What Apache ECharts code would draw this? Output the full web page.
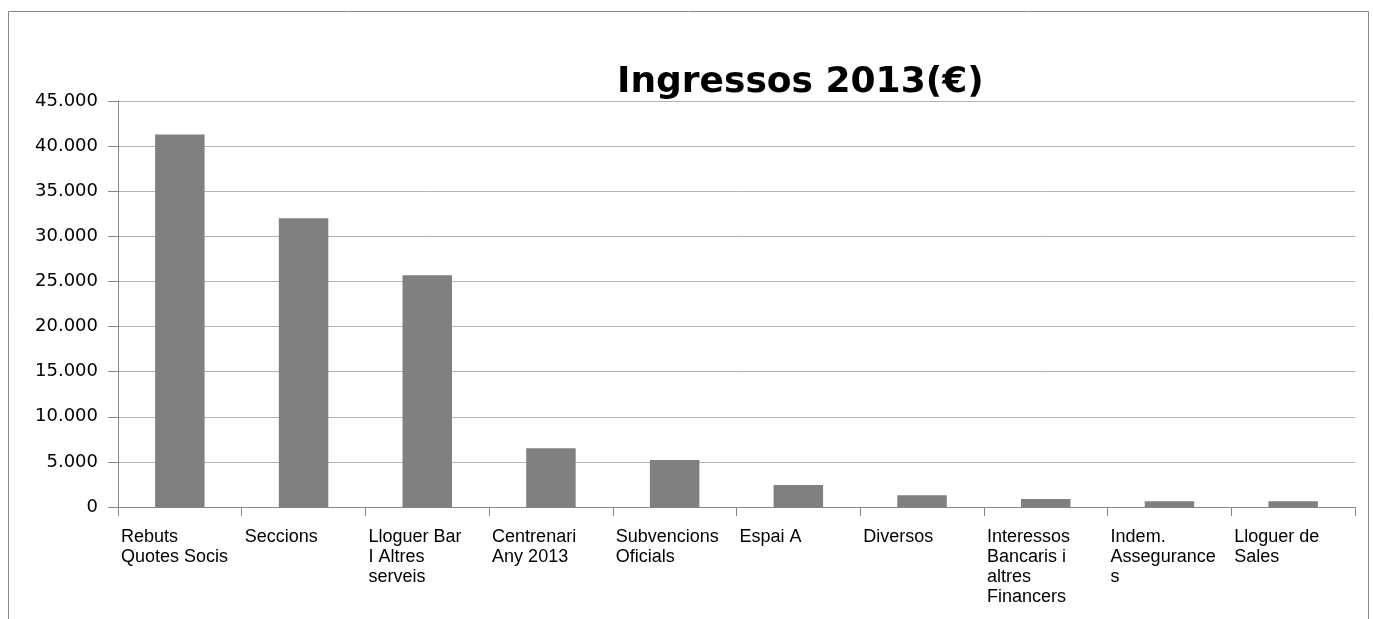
<!DOCTYPE html>
<html>
<head>
<meta charset="utf-8">
<script src="https://cdn.jsdelivr.net/npm/echarts@6/dist/echarts.min.js"></script>
<style>
  html, body { margin: 0; padding: 0; background: #fff; }
  #chart { width: 1373px; height: 619px; }
</style>
</head>
<body>
<div id="chart"></div>
<script>
const title = 'Ingressos 2013(€)';
const categories = ['Rebuts Quotes Socis', 'Seccions', 'Lloguer Bar I Altres serveis', 'Centrenari Any 2013', 'Subvencions Oficials', 'Espai A', 'Diversos', 'Interessos Bancaris i altres Financers', 'Indem. Assegurances', 'Lloguer de Sales'];
const categoryLabels = ['Rebuts\nQuotes Socis', 'Seccions', 'Lloguer Bar\nI Altres\nserveis', 'Centrenari\nAny 2013', 'Subvencions\nOficials', 'Espai A', 'Diversos', 'Interessos\nBancaris i\naltres\nFinancers', 'Indem.\nAssegurance\ns', 'Lloguer de\nSales'];
const values = [41300, 32000, 25700, 6500, 5200, 2450, 1300, 900, 650, 650];
const yTicks = { min: 0, max: 45000, interval: 5000 };

const chart = echarts.init(document.getElementById('chart'), null, { renderer: 'canvas' });
chart.setOption({
  animation: false,
  backgroundColor: '#ffffff',
  graphic: [{
    type: 'rect', shape: { x: 8.5, y: 11.5, width: 1360, height: 640 },
    style: { fill: 'none', stroke: '#888888', lineWidth: 1 }, silent: true, z: -1
  }],
  title: {
    text: title, left: 612, top: 60,
    textStyle: { fontFamily: 'DejaVu Sans', fontWeight: 'bold', fontSize: 36, color: '#000' }
  },
  grid: { left: 118, right: 18, top: 101, bottom: 112, containLabel: false },
  xAxis: [{
    type: 'category', data: categories,
    axisLine: { lineStyle: { color: '#868686' } },
    axisTick: { show: true, interval: 0, length: 9, lineStyle: { color: '#868686' } },
    axisLabel: { show: false }
  }, {
    type: 'category', data: categoryLabels.concat(['']), boundaryGap: false, position: 'bottom',
    axisLine: { show: false }, axisTick: { show: false },
    axisLabel: {
      show: true, interval: 0, align: 'left', margin: 20,
      fontFamily: 'Liberation Sans Narrow, Liberation Sans, sans-serif', fontSize: 18, lineHeight: 20, color: '#000',
      padding: [0, 0, 0, 3]
    }
  }],
  yAxis: {
    type: 'value', min: yTicks.min, max: yTicks.max, interval: yTicks.interval,
    axisLine: { show: true, lineStyle: { color: '#868686' } },
    axisTick: { show: true, length: 10, lineStyle: { color: '#868686' } },
    splitLine: { lineStyle: { color: '#b3b3b3' } },
    axisLabel: {
      margin: 20, fontFamily: 'DejaVu Sans', fontSize: 18, color: '#000',
      formatter: v => v === 0 ? '0' : v.toLocaleString('de-DE')
    }
  },
  series: [{
    type: 'bar', data: values, barWidth: '40%', xAxisIndex: 0,
    itemStyle: { color: '#808080' }
  }]
});
</script>
</body>
</html>
